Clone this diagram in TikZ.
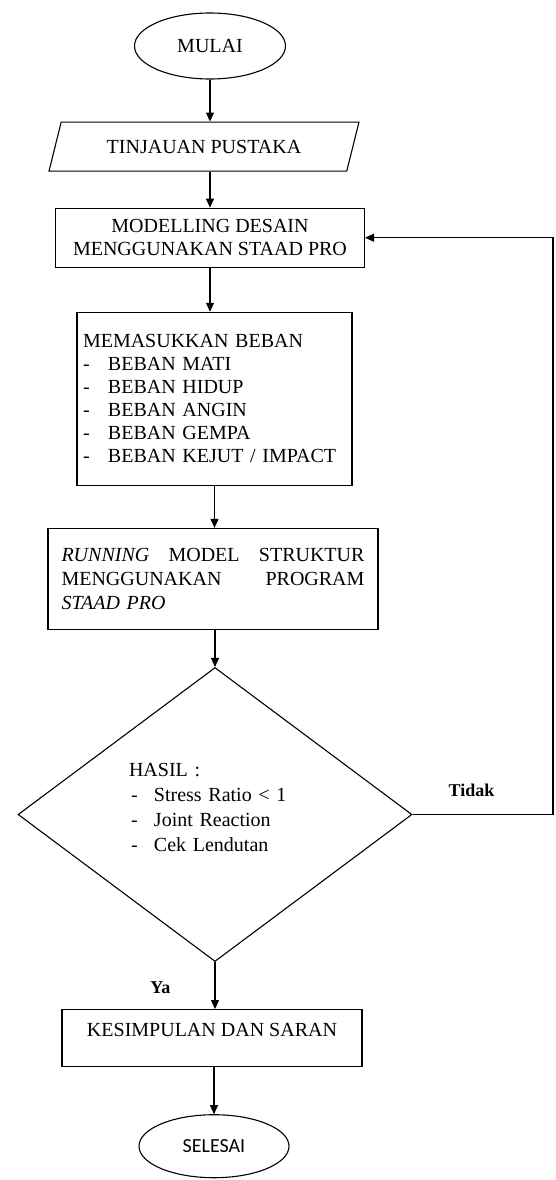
\documentclass[tikz,border=0pt]{standalone}
\usepackage{fontspec}
\setmainfont{Liberation Serif}
\newfontfamily\calibri{Carlito}
\usepackage{tikz}
\usetikzlibrary{shapes.geometric, arrows.meta, positioning, calc}

\begin{document}
\begin{tikzpicture}[>={Triangle[length=9pt,width=8pt]}, line width=1.1pt,
    teks/.style={font=\fontsize{20}{23}\selectfont},
    kotak/.style={draw, rectangle, inner sep=0pt, teks},
    oval/.style={draw, ellipse, inner sep=0pt, minimum width=151pt, minimum height=66pt},
    jawab/.style={inner sep=0pt, font=\fontsize{18}{20}\selectfont\bfseries}]
    \useasboundingbox (0pt,0pt) rectangle (556pt,-1180pt);
    \node[oval, teks] (mulai) at (210pt,-46pt) {MULAI};
    \node[draw, trapezium, trapezium left angle=76, trapezium right angle=104,
          trapezium stretches body, minimum width=310pt, text height=31pt, text depth=18pt,
          inner sep=0pt, teks, below=42pt of mulai, xshift=-6pt] (tinjauan) {TINJAUAN PUSTAKA};
    \node[kotak, align=center, minimum width=309pt, minimum height=59pt,
          below=36pt of tinjauan, xshift=6pt] (modelling) {MODELLING DESAIN\\MENGGUNAKAN STAAD PRO};
    \node[kotak, text width=263pt, inner xsep=6pt, align=left, minimum height=173pt,
          below=44pt of modelling, xshift=4.5pt] (memasukkan)
          {MEMASUKKAN BEBAN\\
           \makebox[25pt][l]{-}BEBAN MATI\\
           \makebox[25pt][l]{-}BEBAN HIDUP\\
           \makebox[25pt][l]{-}BEBAN ANGIN\\
           \makebox[25pt][l]{-}BEBAN GEMPA\\
           \makebox[25pt][l]{-}BEBAN KEJUT / IMPACT};
    \node[kotak, text width=303pt, inner xsep=13.5pt, align=left, minimum height=101pt,
          font=\fontsize{20}{24}\selectfont,
          below=42pt of memasukkan, xshift=-1.5pt] (running)
          {\textit{RUNNING}\hfill MODEL\hfill STRUKTUR\\
           MENGGUNAKAN\hfill PROGRAM\\
           \textit{STAAD PRO}};
    \node[draw, diamond, minimum width=394pt, minimum height=294pt, inner sep=0pt,
          text width=172pt, align=left, font=\fontsize{20}{25}\selectfont,
          below=37pt of running, xshift=2pt] (hasil)
          {HASIL :\\
           \makebox[25pt][l]{\hspace{2pt}-}Stress Ratio < 1\\
           \makebox[25pt][l]{\hspace{2pt}-}Joint Reaction\\
           \makebox[25pt][l]{\hspace{2pt}-}Cek Lendutan\\[-11pt]
           \mbox{}};
    \node[kotak, minimum width=300pt, text height=27pt, text depth=30pt,
          below=47pt of hasil, xshift=-3pt] (kesimpulan) {KESIMPULAN DAN SARAN};
    \node[oval, font=\fontsize{20}{24}\calibri, minimum width=150pt, minimum height=63pt,
          below=47pt of kesimpulan, xshift=2pt] (selesai) {SELESAI};
    \coordinate (balik) at (553pt,-238pt);

    \draw[->] (mulai) -- (mulai |- tinjauan.north);
    \draw[->] (tinjauan.south -| mulai) -- (modelling.north -| mulai);
    \draw[->] (modelling.south) -- (modelling.south |- memasukkan.north);
    \draw[->] (memasukkan.south) -- (memasukkan.south |- running.north);
    \draw[->] (running.south -| hasil) -- (hasil.north);
    \draw[->] (hasil.south) -- node[jawab, pos=0.55, left=44pt] {Ya} (hasil.south |- kesimpulan.north);
    \draw[->] (kesimpulan.south -| selesai) -- (selesai.north);
    \draw[->] (hasil.east) -- node[jawab, pos=0.42, above=17pt] {Tidak} (hasil.east -| balik)
        |- (modelling.east);
\end{tikzpicture}
\end{document}
